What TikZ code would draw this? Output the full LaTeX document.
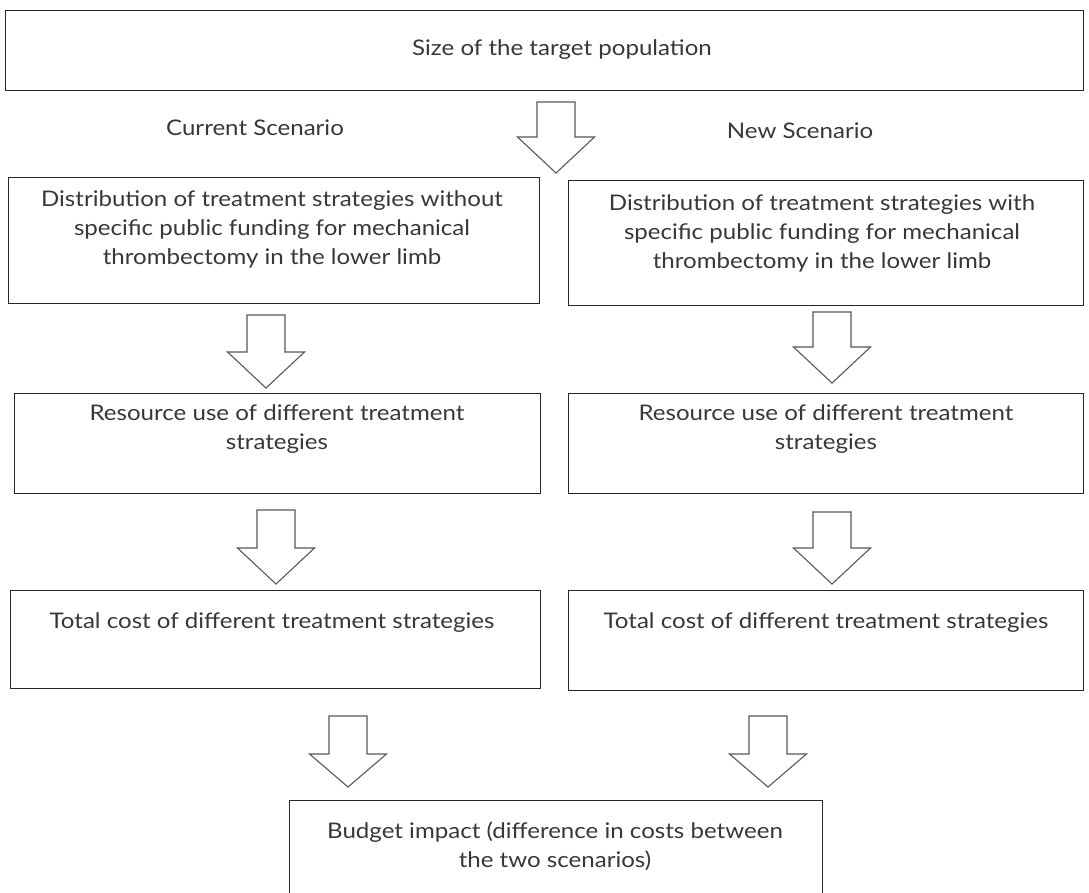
\documentclass[tikz,border=0pt]{standalone}
\usepackage{fontspec}
\setmainfont[FakeStretch=1.12]{Lato}
\begin{document}
\begin{tikzpicture}[x=1pt,y=-1pt,
  box/.style={draw=black!85, line width=1.3pt, inner sep=0pt, anchor=north west},
  lbl/.style={font=\fontsize{21.5}{29}\selectfont, text=black!78, align=center, inner sep=0pt},
  barrow/.style={draw=black!65, line width=1.1pt, fill=white, line join=miter}]
\useasboundingbox[fill=white] (0,0) rectangle (1089,892);
% block arrow: centre x, top, head base, tip
\newcommand{\bArrow}[4]{%
  \draw[barrow] (#1-19,#2) -- (#1+19,#2) -- (#1+19,#3) -- (#1+38.5,#3) -- (#1,#4)
    -- (#1-38.5,#3) -- (#1-19,#3) -- cycle;}
% boxes
\node[box, minimum width=1078pt, minimum height=80pt] (top) at (5,10) {};
\node[box, minimum width=531pt, minimum height=126pt] (L1) at (8,177) {};
\node[box, minimum width=515pt, minimum height=125pt] (R1) at (568,180) {};
\node[box, minimum width=526pt, minimum height=100pt] (L2) at (14,393) {};
\node[box, minimum width=515pt, minimum height=100pt] (R2) at (568,393) {};
\node[box, minimum width=530pt, minimum height=98pt] (L3) at (10,590) {};
\node[box, minimum width=515pt, minimum height=100pt] (R3) at (568,590) {};
\node[box, minimum width=533pt, minimum height=100pt] (B) at (289,800) {};
% texts
\node[lbl] (tTop) at (562,50) {Size of the target population};
\node[lbl] (tCur) at (255,128) {Current Scenario};
\node[lbl] (tNew) at (800,131) {New Scenario};
\node[lbl] (tL1) at (272,229) {Distribution of treatment strategies without\\specific public funding for mechanical\\thrombectomy in the lower limb};
\node[lbl] (tR1) at (822,233) {Distribution of treatment strategies with\\specific public funding for mechanical\\thrombectomy in the lower limb};
\node[lbl] (tL2) at (277,429) {Resource use of different treatment\\strategies};
\node[lbl] (tR2) at (826,429) {Resource use of different treatment\\strategies};
\node[lbl] (tL3) at (272,623) {Total cost of different treatment strategies};
\node[lbl] (tR3) at (826,623) {Total cost of different treatment strategies};
\node[lbl] (tB) at (555,846) {Budget impact (difference in costs between\\the two scenarios)};
% arrows
\bArrow{556}{102}{137}{173}
\bArrow{266}{315}{352}{388}
\bArrow{832}{312}{347}{383}
\bArrow{276}{510}{548}{584}
\bArrow{832}{512}{548}{584}
\bArrow{348}{716}{754}{787}
\bArrow{768}{716}{754}{787}
\end{tikzpicture}
\end{document}
